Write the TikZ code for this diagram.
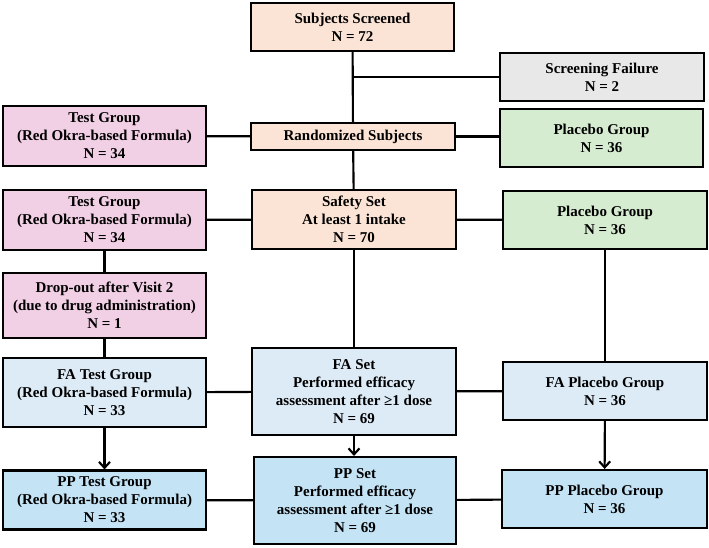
\documentclass[tikz,border=0pt]{standalone}
\usepackage{fontspec}
\setmainfont{Liberation Serif}
\usetikzlibrary{arrows.meta}
\definecolor{peachcolor}{RGB}{251, 228, 214}
\definecolor{failcolor}{RGB}{232, 232, 232}
\definecolor{pinkcolor}{RGB}{241, 207, 228}
\definecolor{greencolor}{RGB}{214, 236, 209}
\definecolor{facolor}{RGB}{221, 235, 247}
\definecolor{ppcolor}{RGB}{196, 227, 245}
\tikzstyle{box} = [rectangle, draw=black, line width=0.75mm, align=center,
                   inner sep=0pt, text=black,
                   font=\fontsize{15}{18}\selectfont\bfseries]
\tikzstyle{screenbox} = [box, fill=peachcolor]
\tikzstyle{failbox} = [box, fill=failcolor]
\tikzstyle{testbox} = [box, fill=pinkcolor]
\tikzstyle{placebobox} = [box, fill=greencolor]
\tikzstyle{fabox} = [box, fill=facolor]
\tikzstyle{ppbox} = [box, fill=ppcolor]
\tikzstyle{link} = [line width=0.75mm]
\tikzstyle{arrow} = [line width=0.75mm,-{Straight Barb[length=6pt,width=11pt]}]
\begin{document}
\begin{tikzpicture}[x=1pt, y=-1pt]
        \useasboundingbox (0,0) rectangle (709,547);

        %Screening
        \node (Screened) [screenbox, minimum width=203, minimum height=48] at (352.5,27) {Subjects Screened\\N = 72};
        \node (Failure) [failbox, minimum width=204, minimum height=48] at (602,77) {Screening Failure\\N = 2};
        \node (Randomized) [screenbox, minimum width=204, minimum height=27] at (353,136.5) {Randomized Subjects};

        %Randomized groups
        \node (Test0) [testbox, minimum width=203, minimum height=60] at (104.5,136) {Test Group\\(Red Okra-based Formula)\\N = 34};
        \node (Placebo0) [placebobox, minimum width=203, minimum height=58] at (601.5,138) {Placebo Group\\N = 36};

        %Safety set
        \node (Safety) [screenbox, minimum width=204, minimum height=59] at (354,219.5) {Safety Set\\At least 1 intake\\N = 70};
        \node (Test1) [testbox, minimum width=203, minimum height=60] at (104.5,220) {Test Group\\(Red Okra-based Formula)\\N = 34};
        \node (Placebo1) [placebobox, minimum width=204, minimum height=58] at (605,220) {Placebo Group\\N = 36};
        \node (Dropout) [testbox, minimum width=203, minimum height=65] at (104.5,305.5) {Drop-out after Visit 2\\(due to drug administration)\\N = 1};

        %FA set
        \node (FASet) [fabox, minimum width=204, minimum height=87] at (354,391.5) {FA Set\\Performed efficacy\\assessment after ≥1 dose\\N = 69};
        \node (FATest) [fabox, minimum width=203, minimum height=69] at (104.5,392.5) {FA Test Group\\(Red Okra-based Formula)\\N = 33};
        \node (FAPlacebo) [fabox, minimum width=204, minimum height=58] at (605,391) {FA Placebo Group\\N = 36};

        %PP set
        \node (PPSet) [ppbox, minimum width=202, minimum height=87] at (355,500.5) {PP Set\\Performed efficacy\\assessment after ≥1 dose\\N = 69};
        \node (PPTest) [ppbox, minimum width=203, minimum height=59] at (104.5,500) {PP Test Group\\(Red Okra-based Formula)\\N = 33};
        \node (PPPlacebo) [ppbox, minimum width=205, minimum height=58] at (604.5,499) {PP Placebo Group\\N = 36};

        %Lines from screening
        \draw [link] (Screened) -- (Randomized);
        \draw [link] (Screened.south |- Failure.west) -- (Failure.west);
        \draw [link] (Randomized) -- (Test0);
        \draw [link] (Randomized.east) -- (Placebo0.west |- Randomized.east);
        \draw [link] (Randomized) -- (Safety);

        %Lines from safety set
        \draw [link] (Safety) -- (Test1);
        \draw [link] (Safety) -- (Placebo1);
        \draw [link] (Test1) -- (Dropout);
        \draw [link] (Dropout) -- (FATest);
        \draw [link] (Safety.south) -- (Safety.south |- FASet.north);
        \draw [link] (Placebo1) -- (FAPlacebo);

        %Lines from FA set
        \draw [link] (FASet) -- (FATest);
        \draw [link] (FASet) -- (FAPlacebo);
        \draw [arrow] (FATest) -- (PPTest);
        \draw [arrow] (FASet.south) -- (FASet.south |- PPSet.north);
        \draw [arrow] (FAPlacebo) -- (PPPlacebo);

        %Lines to PP set
        \draw [link] (PPSet) -- (PPTest);
        \draw [link] (PPSet) -- (PPPlacebo);

    \end{tikzpicture}
\end{document}
